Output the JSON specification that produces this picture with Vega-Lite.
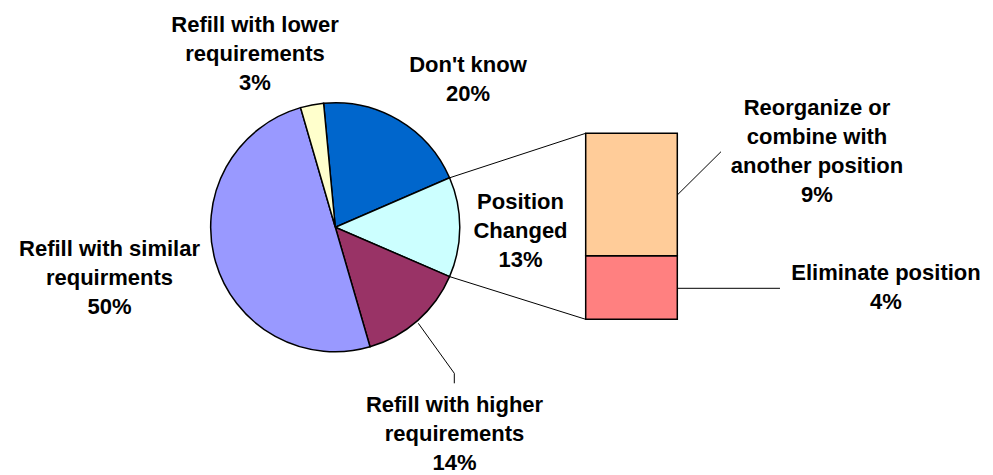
{
  "$schema": "https://vega.github.io/schema/vega-lite/v6.json",
  "width": 993,
  "height": 475,
  "padding": 0,
  "autosize": {"type": "fit", "contains": "padding"},
  "background": "white",
  "config": {
    "view": {"stroke": null},
    "text": {"font": "Liberation Sans", "fontWeight": "bold", "fontSize": 22, "lineHeight": 29, "align": "center", "baseline": "alphabetic", "color": "black", "lineBreak": "\n"}
  },
  "layer": [
    {
      "data": {"values": [
        {"category": "Don't know", "value": 20, "ord": 1},
        {"category": "Position Changed", "value": 13, "ord": 2},
        {"category": "Refill with higher requirements", "value": 14, "ord": 3},
        {"category": "Refill with similar requirements", "value": 50, "ord": 4},
        {"category": "Refill with lower requirements", "value": 3, "ord": 5}
      ]},
      "mark": {"type": "arc", "outerRadius": 124.5, "stroke": "black", "strokeWidth": 1.5},
      "encoding": {
        "theta": {"field": "value", "type": "quantitative", "stack": true, "scale": {"range": [-0.0942, 6.189]}},
        "order": {"field": "ord", "type": "quantitative"},
        "color": {"field": "category", "type": "nominal", "legend": null,
          "scale": {"domain": ["Don't know", "Position Changed", "Refill with higher requirements", "Refill with similar requirements", "Refill with lower requirements", "Reorganize or combine with another position", "Eliminate position"],
                    "range": ["#0066CC", "#CCFFFF", "#993366", "#9999FF", "#FFFFCC", "#FFCC99", "#FF8080"]}},
        "x": {"datum": 335.3, "type": "quantitative", "scale": {"domain": [0, 993], "nice": false, "zero": false}, "axis": null},
        "y": {"datum": 6.437, "type": "quantitative", "scale": {"domain": [-10.882, 22.317], "nice": false, "zero": false}, "axis": null}
      }
    },
    {
      "data": {"values": [
        {"category": "Eliminate position", "value": 4.45, "ord": 1},
        {"category": "Reorganize or combine with another position", "value": 8.55, "ord": 2}
      ]},
      "transform": [
        {"stack": "value", "groupby": [], "sort": [{"field": "ord", "order": "ascending"}], "as": ["v0", "v1"]}
      ],
      "mark": {"type": "rect", "stroke": "black", "strokeWidth": 1.5},
      "encoding": {
        "x": {"datum": 585.7, "type": "quantitative"},
        "x2": {"datum": 677.3},
        "y": {"field": "v0", "type": "quantitative"},
        "y2": {"field": "v1"},
        "color": {"field": "category", "type": "nominal", "legend": null}
      }
    },
    {
      "data": {"values": [{"k": 1}]},
      "mark": {"type": "rule", "color": "black", "strokeWidth": 1},
      "encoding": {"x": {"datum": 449.6, "type": "quantitative"}, "y": {"datum": 9.890, "type": "quantitative"}, "x2": {"datum": 585.7}, "y2": {"datum": 13.0}}
    },
    {
      "data": {"values": [{"k": 1}]},
      "mark": {"type": "rule", "color": "black", "strokeWidth": 1},
      "encoding": {"x": {"datum": 449.6, "type": "quantitative"}, "y": {"datum": 2.984, "type": "quantitative"}, "x2": {"datum": 585.7}, "y2": {"datum": 0}}
    },
    {
      "data": {"values": [{"k": 1}]},
      "mark": {"type": "rule", "color": "black", "strokeWidth": 1},
      "encoding": {"x": {"datum": 418.3, "type": "quantitative"}, "y": {"datum": -0.280, "type": "quantitative"}, "x2": {"datum": 454.3}, "y2": {"datum": -3.774}}
    },
    {
      "data": {"values": [{"k": 1}]},
      "mark": {"type": "rule", "color": "black", "strokeWidth": 1},
      "encoding": {"x": {"datum": 454.3, "type": "quantitative"}, "y": {"datum": -3.774, "type": "quantitative"}, "x2": {"datum": 454.3}, "y2": {"datum": -4.473}}
    },
    {
      "data": {"values": [{"k": 1}]},
      "mark": {"type": "rule", "color": "black", "strokeWidth": 1},
      "encoding": {"x": {"datum": 677.3, "type": "quantitative"}, "y": {"datum": 8.688, "type": "quantitative"}, "x2": {"datum": 721}, "y2": {"datum": 11.714}}
    },
    {
      "data": {"values": [{"k": 1}]},
      "mark": {"type": "rule", "color": "black", "strokeWidth": 1},
      "encoding": {"x": {"datum": 677.3, "type": "quantitative"}, "y": {"datum": 2.167, "type": "quantitative"}, "x2": {"datum": 780}, "y2": {"datum": 2.167}}
    },
    {
      "data": {"values": [{"label": "Refill with lower\nrequirements\n3%"}]},
      "mark": {"type": "text"},
      "encoding": {"text": {"field": "label"}, "x": {"datum": 255, "type": "quantitative"}, "y": {"datum": 20.080, "type": "quantitative"}}
    },
    {
      "data": {"values": [{"label": "Don't know\n20%"}]},
      "mark": {"type": "text"},
      "encoding": {"text": {"field": "label"}, "x": {"datum": 468, "type": "quantitative"}, "y": {"datum": 17.284, "type": "quantitative"}}
    },
    {
      "data": {"values": [{"label": "Position\nChanged\n13%"}]},
      "mark": {"type": "text"},
      "encoding": {"text": {"field": "label"}, "x": {"datum": 520.5, "type": "quantitative"}, "y": {"datum": 7.709, "type": "quantitative"}}
    },
    {
      "data": {"values": [{"label": "Refill with similar\nrequirments\n50%"}]},
      "mark": {"type": "text"},
      "encoding": {"text": {"field": "label"}, "x": {"datum": 109.5, "type": "quantitative"}, "y": {"datum": 4.424, "type": "quantitative"}}
    },
    {
      "data": {"values": [{"label": "Refill with higher\nrequirements\n14%"}]},
      "mark": {"type": "text"},
      "encoding": {"text": {"field": "label"}, "x": {"datum": 454.5, "type": "quantitative"}, "y": {"datum": -6.479, "type": "quantitative"}}
    },
    {
      "data": {"values": [{"label": "Reorganize or\ncombine with\nanother position\n9%"}]},
      "mark": {"type": "text"},
      "encoding": {"text": {"field": "label"}, "x": {"datum": 817, "type": "quantitative"}, "y": {"datum": 14.279, "type": "quantitative"}}
    },
    {
      "data": {"values": [{"label": "Eliminate position\n4%"}]},
      "mark": {"type": "text"},
      "encoding": {"text": {"field": "label"}, "x": {"datum": 886, "type": "quantitative"}, "y": {"datum": 2.747, "type": "quantitative"}}
    }
  ]
}
